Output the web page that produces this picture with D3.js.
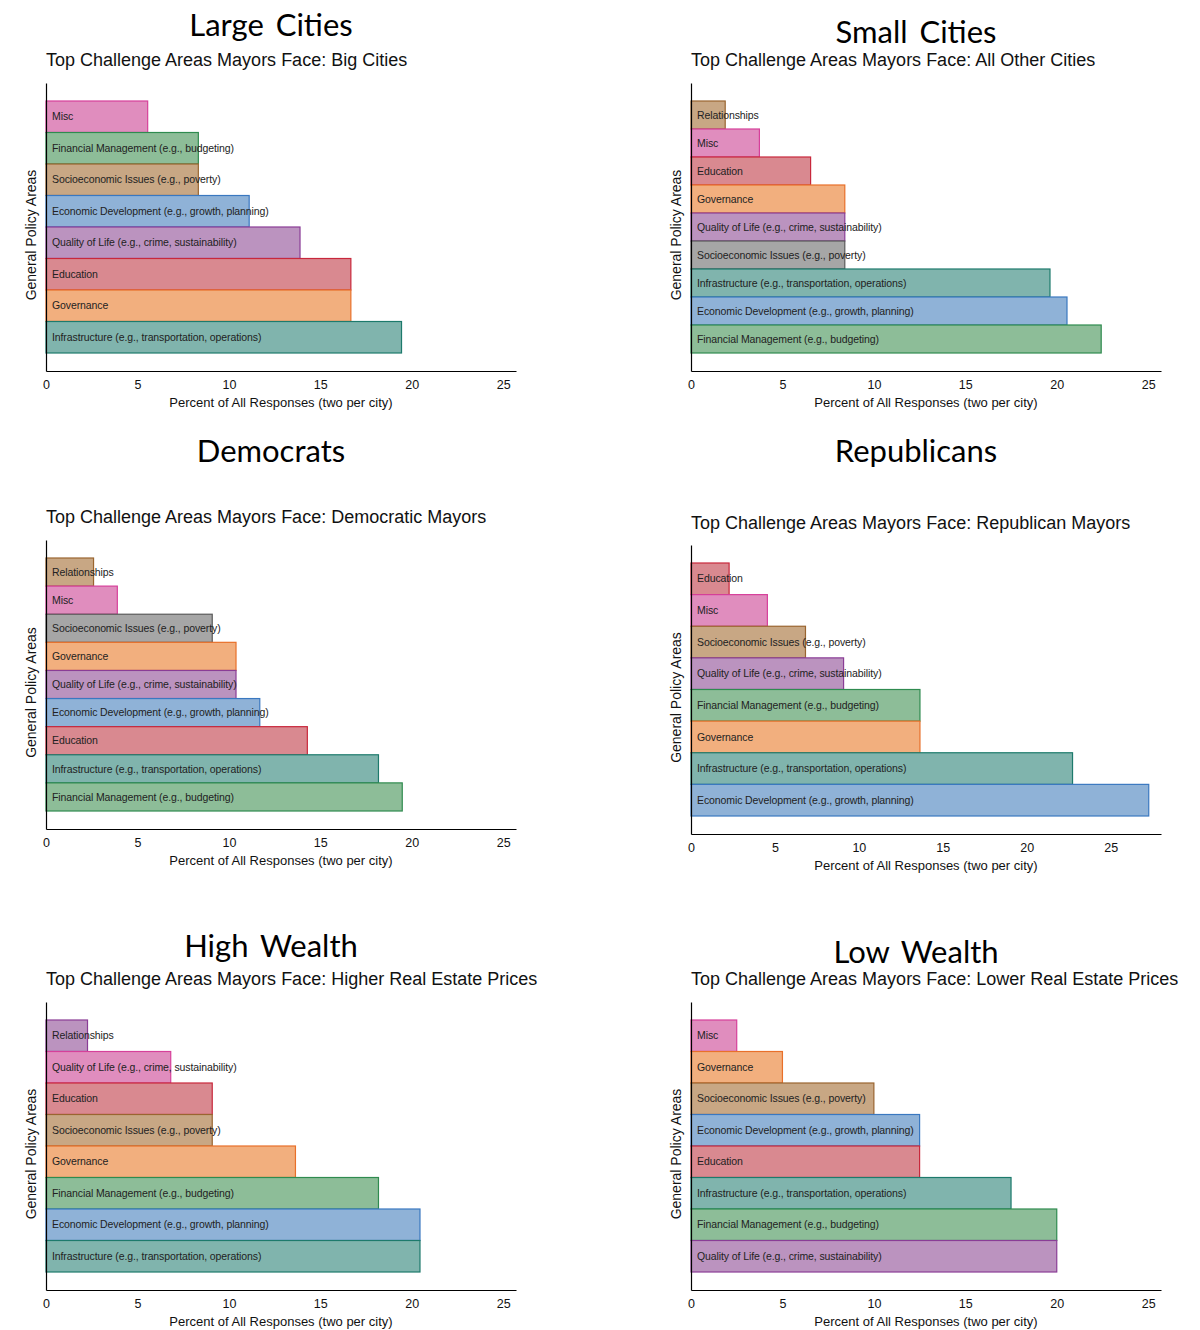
<!DOCTYPE html>
<html>
<head>
<meta charset="utf-8">
<script src="https://cdn.jsdelivr.net/npm/d3@7"></script>
<style>
  html, body { margin: 0; padding: 0; background: #fff; }
  svg { display: block; }
</style>
</head>
<body>
<svg id="chart" width="1200" height="1330"></svg>
<script>
// ---------- DATA ----------
const tickValues = [0, 5, 10, 15, 20, 25];

const largeTitle = "Large Cities";
const largeSubtitle = "Top Challenge Areas Mayors Face: Big Cities";
const largeCategories = ["Misc", "Financial Management (e.g., budgeting)", "Socioeconomic Issues (e.g., poverty)", "Economic Development (e.g., growth, planning)", "Quality of Life (e.g., crime, sustainability)", "Education", "Governance", "Infrastructure (e.g., transportation, operations)"];
const largeValues = [5.56, 8.33, 8.33, 11.11, 13.89, 16.67, 16.67, 19.44];

const smallTitle = "Small Cities";
const smallSubtitle = "Top Challenge Areas Mayors Face: All Other Cities";
const smallCategories = ["Relationships", "Misc", "Education", "Governance", "Quality of Life (e.g., crime, sustainability)", "Socioeconomic Issues (e.g., poverty)", "Infrastructure (e.g., transportation, operations)", "Economic Development (e.g., growth, planning)", "Financial Management (e.g., budgeting)"];
const smallValues = [1.87, 3.74, 6.54, 8.41, 8.41, 8.41, 19.63, 20.56, 22.43];

const demTitle = "Democrats";
const demSubtitle = "Top Challenge Areas Mayors Face: Democratic Mayors";
const demCategories = ["Relationships", "Misc", "Socioeconomic Issues (e.g., poverty)", "Governance", "Quality of Life (e.g., crime, sustainability)", "Economic Development (e.g., growth, planning)", "Education", "Infrastructure (e.g., transportation, operations)", "Financial Management (e.g., budgeting)"];
const demValues = [2.60, 3.90, 9.09, 10.39, 10.39, 11.69, 14.29, 18.18, 19.48];

const repTitle = "Republicans";
const repSubtitle = "Top Challenge Areas Mayors Face: Republican Mayors";
const repCategories = ["Education", "Misc", "Socioeconomic Issues (e.g., poverty)", "Quality of Life (e.g., crime, sustainability)", "Financial Management (e.g., budgeting)", "Governance", "Infrastructure (e.g., transportation, operations)", "Economic Development (e.g., growth, planning)"];
const repValues = [2.27, 4.55, 6.82, 9.09, 13.64, 13.64, 22.73, 27.27];

const highTitle = "High Wealth";
const highSubtitle = "Top Challenge Areas Mayors Face: Higher Real Estate Prices";
const highCategories = ["Relationships", "Quality of Life (e.g., crime, sustainability)", "Education", "Socioeconomic Issues (e.g., poverty)", "Governance", "Financial Management (e.g., budgeting)", "Economic Development (e.g., growth, planning)", "Infrastructure (e.g., transportation, operations)"];
const highValues = [2.27, 6.82, 9.09, 9.09, 13.64, 18.18, 20.45, 20.45];

const lowTitle = "Low Wealth";
const lowSubtitle = "Top Challenge Areas Mayors Face: Lower Real Estate Prices";
const lowCategories = ["Misc", "Governance", "Socioeconomic Issues (e.g., poverty)", "Economic Development (e.g., growth, planning)", "Education", "Infrastructure (e.g., transportation, operations)", "Financial Management (e.g., budgeting)", "Quality of Life (e.g., crime, sustainability)"];
const lowValues = [2.5, 5.0, 10.0, 12.5, 12.5, 17.5, 20.0, 20.0];

const xLabel = "Percent of All Responses (two per city)";
const yLabel = "General Policy Areas";

// ---------- STYLES ----------
const palette = {
  pink:   { fill: "#e08dbe", stroke: "#d6409a" },
  green:  { fill: "#8dbd98", stroke: "#2f8b4f" },
  tan:    { fill: "#c8a784", stroke: "#9a6530" },
  blue:   { fill: "#8fb2d7", stroke: "#3a78c0" },
  purple: { fill: "#bb93bf", stroke: "#8a3d96" },
  red:    { fill: "#d98990", stroke: "#c8283c" },
  orange: { fill: "#f2af7e", stroke: "#e8702a" },
  teal:   { fill: "#80b4ad", stroke: "#1d7a6c" },
  grey:   { fill: "#a6a6a6", stroke: "#5a5a5a" }
};
const largeColors = ["pink", "green", "tan", "blue", "purple", "red", "orange", "teal"];
const smallColors = ["tan", "pink", "red", "orange", "purple", "grey", "teal", "blue", "green"];
const demColors   = ["tan", "pink", "grey", "orange", "purple", "blue", "red", "teal", "green"];
const repColors   = ["red", "pink", "tan", "purple", "green", "orange", "teal", "blue"];
const highColors  = ["purple", "pink", "red", "tan", "orange", "green", "blue", "teal"];
const lowColors   = ["pink", "orange", "tan", "blue", "red", "teal", "green", "purple"];

const panels = [
  { title: largeTitle, subtitle: largeSubtitle, cats: largeCategories, vals: largeValues, colors: largeColors,
    left: 46, right: 516, top: 83, bottom: 371, titleY: 36, subY: 66, xMax: 25.7 },
  { title: smallTitle, subtitle: smallSubtitle, cats: smallCategories, vals: smallValues, colors: smallColors,
    left: 691, right: 1161, top: 83, bottom: 371, titleY: 43, subY: 66, xMax: 25.7 },
  { title: demTitle, subtitle: demSubtitle, cats: demCategories, vals: demValues, colors: demColors,
    left: 46, right: 516, top: 540, bottom: 829, titleY: 462, subY: 523, xMax: 25.7 },
  { title: repTitle, subtitle: repSubtitle, cats: repCategories, vals: repValues, colors: repColors,
    left: 691, right: 1161, top: 545, bottom: 834, titleY: 462, subY: 529, xMax: 28.0 },
  { title: highTitle, subtitle: highSubtitle, cats: highCategories, vals: highValues, colors: highColors,
    left: 46, right: 516, top: 1002, bottom: 1290, titleY: 957, subY: 985, xMax: 25.7 },
  { title: lowTitle, subtitle: lowSubtitle, cats: lowCategories, vals: lowValues, colors: lowColors,
    left: 691, right: 1161, top: 1002, bottom: 1290, titleY: 963, subY: 985, xMax: 25.7 }
];

const svg = d3.select("#chart");
const sansFont = "'Liberation Sans', Arial, Helvetica, sans-serif";

panels.forEach(p => {
  const g = svg.append("g");
  const x = d3.scaleLinear().domain([0, p.xMax]).range([p.left, p.right]);
  const y = d3.scaleBand().domain(p.cats).range([p.top + 18, p.bottom - 18]).padding(0);
  const center = (p.left + p.right) / 2 - 10;

  // Title
  g.append("text")
    .attr("x", center).attr("y", p.titleY)
    .attr("text-anchor", "middle")
    .style("font-family", "Lato, 'Open Sans', sans-serif")
    .style("font-size", "31px")
    .style("word-spacing", "4px")
    .attr("fill", "#000")
    .text(p.title);

  // Subtitle
  g.append("text")
    .attr("x", p.left).attr("y", p.subY)
    .style("font-family", sansFont)
    .style("font-size", "18px")
    .attr("fill", "#111")
    .text(p.subtitle);

  // Bars
  const data = p.cats.map((c, i) => ({ cat: c, val: p.vals[i], color: palette[p.colors[i]] }));
  g.selectAll("rect.bar").data(data).enter().append("rect")
    .attr("class", "bar")
    .attr("x", x(0))
    .attr("y", d => y(d.cat))
    .attr("width", d => x(d.val) - x(0))
    .attr("height", y.bandwidth())
    .attr("fill", d => d.color.fill)
    .attr("stroke", d => d.color.stroke)
    .attr("stroke-width", 1.2);

  // Bar labels
  g.selectAll("text.lab").data(data).enter().append("text")
    .attr("class", "lab")
    .attr("x", x(0) + 6)
    .attr("y", d => y(d.cat) + y.bandwidth() / 2)
    .attr("dy", "0.35em")
    .style("font-family", sansFont)
    .style("font-size", "10.5px")
    .style("letter-spacing", "-0.1px")
    .attr("fill", "#222")
    .text(d => d.cat);

  // X axis
  const xAxis = d3.axisBottom(x).tickValues(tickValues).tickSize(0).tickPadding(9).tickFormat(d3.format("d"));
  const ax = g.append("g").attr("transform", `translate(0,${p.bottom})`).call(xAxis);
  ax.select(".domain").attr("stroke", "#000").attr("stroke-width", 1.2);
  ax.selectAll("text").style("font-family", sansFont).style("font-size", "12.5px").attr("fill", "#111");

  // Y axis (spine only)
  const yAxis = d3.axisLeft(d3.scaleLinear().range([p.bottom, p.top])).ticks(0).tickSize(0);
  const ay = g.append("g").attr("transform", `translate(${p.left},0)`).call(yAxis);
  ay.select(".domain").attr("stroke", "#000").attr("stroke-width", 1.2);

  // Axis titles
  g.append("text")
    .attr("x", (p.left + p.right) / 2).attr("y", p.bottom + 36)
    .attr("text-anchor", "middle")
    .style("font-family", sansFont)
    .style("font-size", "13px")
    .attr("fill", "#111")
    .text(xLabel);

  g.append("text")
    .attr("transform", `translate(${p.left - 10},${(p.top + p.bottom) / 2 + 8}) rotate(-90)`)
    .attr("text-anchor", "middle")
    .style("font-family", sansFont)
    .style("font-size", "14px")
    .attr("fill", "#111")
    .text(yLabel);
});
</script>
</body>
</html>
